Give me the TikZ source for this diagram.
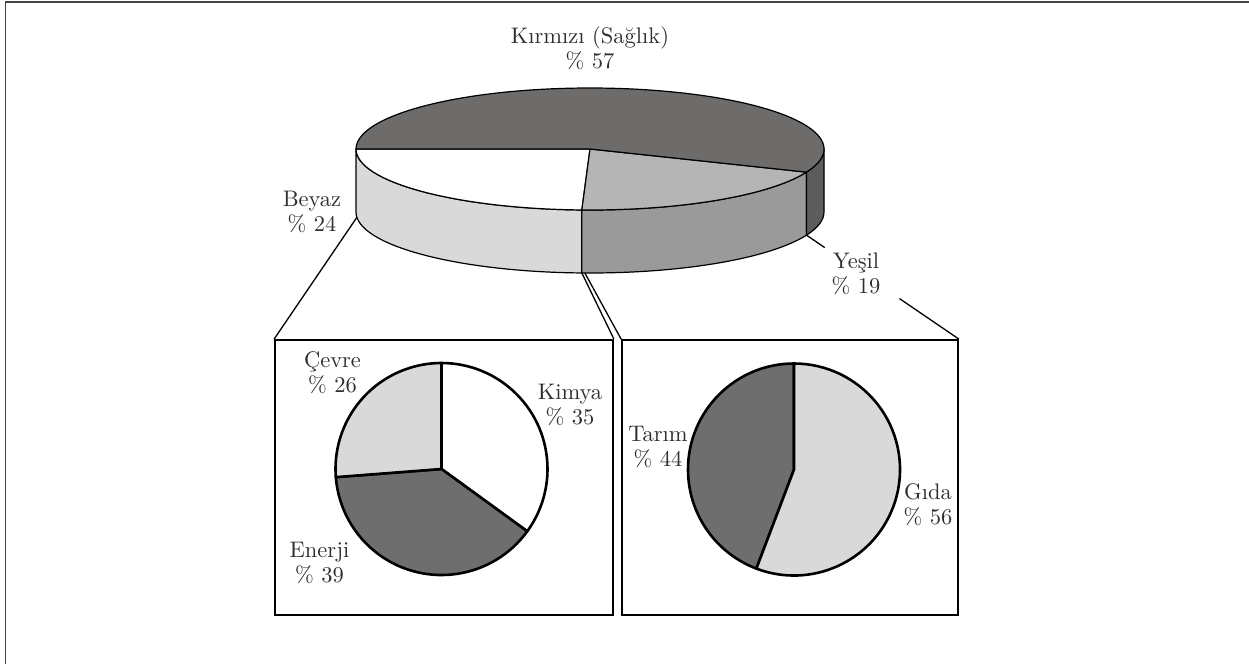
\documentclass[tikz,border=0pt]{standalone}
\usepackage{fontspec}
\setmainfont{lmroman10-regular}[Extension=.otf]
\usetikzlibrary{calc}
\definecolor{txt}{HTML}{2E2E2E}
\definecolor{frame}{HTML}{444444}
\definecolor{topdark}{HTML}{6D6C6A}
\definecolor{topgray}{HTML}{B5B5B5}
\definecolor{sidelight}{HTML}{D9D9D9}
\definecolor{sidegray}{HTML}{9A9A9A}
\definecolor{sidedark}{HTML}{5D5D5D}
\definecolor{piedark}{HTML}{6E6E6E}
\definecolor{pielight}{HTML}{D9D9D9}
\begin{document}
\begin{tikzpicture}[x=1pt,y=1pt,
  lab/.style={align=center, font=\fontsize{22.5}{25}\selectfont, text=txt, inner sep=1pt},
  pie3d/.style={draw=black, line width=1.2pt, line join=round},
  flatpie/.style={draw=black, line width=2.6pt, line join=round},
  boxstyle/.style={draw=black, line width=1.8pt, minimum width=338pt, minimum height=275pt, inner sep=0pt},
  conn/.style={draw=black, line width=1.3pt}]
\useasboundingbox (0,0) rectangle (1249,-664);
% page frame (top and left only)
\draw[frame, line width=1.6pt] (5.5,-664) -- (5.5,-1.7) -- (1249,-1.7);

% ---- 3D pie ----
\coordinate (C) at (590,-149);
% side faces
\filldraw[pie3d, fill=sidelight] ($(C)+(180:234 and 61)$) arc[start angle=180, end angle=268, x radius=234, y radius=61]
  -- ++(0,-63) arc[start angle=268, end angle=180, x radius=234, y radius=61] -- cycle;
\filldraw[pie3d, fill=sidegray] ($(C)+(268:234 and 61)$) arc[start angle=268, end angle=337.7, x radius=234, y radius=61]
  -- ++(0,-63) arc[start angle=337.7, end angle=268, x radius=234, y radius=61] -- cycle;
\filldraw[pie3d, fill=sidedark] ($(C)+(337.7:234 and 61)$) arc[start angle=337.7, end angle=360, x radius=234, y radius=61]
  -- ++(0,-63) arc[start angle=360, end angle=337.7, x radius=234, y radius=61] -- cycle;
% top slices
\filldraw[pie3d, fill=white] (C) -- ($(C)+(180:234 and 61)$) arc[start angle=180, end angle=268, x radius=234, y radius=61] -- cycle;
\filldraw[pie3d, fill=topgray] (C) -- ($(C)+(268:234 and 61)$) arc[start angle=268, end angle=337.7, x radius=234, y radius=61] -- cycle;
\filldraw[pie3d, fill=topdark] (C) -- ($(C)+(337.7:234 and 61)$) arc[start angle=337.7, end angle=540, x radius=234, y radius=61] -- cycle;

% anchor points on the 3D pie
\coordinate (bz) at ($(C)+(0,-63)+(185:234 and 61)$);
\coordinate (split) at ($(C)+(0,-63)+(268:234 and 61)$);
\coordinate (ys) at ($(C)+(0,-63)+(337.7:234 and 61)$);

% labels of the 3D pie
\node[lab] (kirmizi) at (590,-48) {Kırmızı (Sağlık)\\\% 57};
\node[lab] (beyaz) at (312,-212) {Beyaz\\\% 24};
\node[lab] (yesil) at (856,-274) {Yeşil\\\% 19};

% ---- boxes ----
\node[boxstyle] (lb) at (444,-477.5) {};
\node[boxstyle, minimum width=336pt] (rb) at (790,-477.5) {};

% connectors
\draw[conn] (bz) -- (lb.north west);
\draw[conn] (split) -- (lb.north east);
\draw[conn] ([xshift=3pt]split) -- (rb.north west);
\draw[conn] (ys) -- ($(ys)!0.12!(rb.north east)$);
\draw[conn] ($(ys)!0.61!(rb.north east)$) -- (rb.north east);

% ---- left pie ----
\coordinate (L) at (441.5,-469);
\filldraw[flatpie, fill=white] (L) -- ++(90:106) arc[start angle=90, end angle=-36, radius=106] -- cycle;
\filldraw[flatpie, fill=piedark] (L) -- ++(-36:106) arc[start angle=-36, end angle=-175.6, radius=106] -- cycle;
\filldraw[flatpie, fill=pielight] (L) -- ++(-175.6:106) arc[start angle=-175.6, end angle=-270, radius=106] -- cycle;
\node[lab] (cevre) at (332.5,-373) {Çevre\\\% 26};
\node[lab] (kimya) at (570,-405) {Kimya\\\% 35};
\node[lab] (enerji) at (319.5,-563) {Enerji\\\% 39};

% ---- right pie ----
\coordinate (R) at (794,-469.5);
\filldraw[flatpie, fill=piedark] (R) -- ++(90:106) arc[start angle=90, end angle=249.2, radius=106] -- cycle;
\filldraw[flatpie, fill=pielight] (R) -- ++(249.2:106) arc[start angle=249.2, end angle=450, radius=106] -- cycle;
\node[lab] (tarim) at (658,-447.5) {Tarım\\\% 44};
\node[lab] (gida) at (928,-505) {Gıda\\\% 56};
\end{tikzpicture}
\end{document}
